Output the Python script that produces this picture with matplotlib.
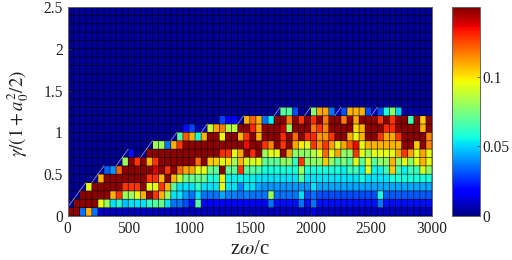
import matplotlib
matplotlib.use('Agg')
from matplotlib import pyplot as plt
import numpy as np

plt.rcParams['font.family'] = ['Liberation Serif', 'DejaVu Serif']
plt.rcParams['mathtext.fontset'] = 'stix'

# cell values in units of 1e-3, one list per row of the map (bottom to top)
row_00 = [148, 148, 36, 108, 36, 10, 8, 8, 8, 8,
          8, 8, 8, 8, 8, 8, 8, 8, 8, 8,
          8, 8, 8, 8, 8, 8, 8, 8, 8, 8,
          8, 8, 8, 8, 8, 8, 8, 8, 8, 8,
          14, 8, 8, 8, 8, 8, 8, 8, 8, 8,
          8, 8, 8, 8, 8, 8, 8, 8, 8, 8]
row_01 = [3, 148, 148, 148, 148, 94, 81, 52, 60, 47,
          52, 52, 52, 62, 68, 72, 52, 36, 36, 30,
          21, 68, 18, 18, 18, 18, 18, 18, 18, 18,
          18, 18, 18, 36, 21, 21, 21, 21, 36, 21,
          36, 21, 21, 21, 21, 21, 21, 21, 21, 21,
          21, 36, 21, 21, 21, 21, 21, 21, 21, 21]
row_02 = [3, 3, 148, 148, 148, 148, 148, 108, 128, 81,
          81, 94, 108, 148, 128, 108, 81, 52, 52, 42,
          36, 52, 36, 36, 36, 43, 38, 38, 36, 38,
          36, 36, 36, 81, 36, 36, 36, 36, 52, 30,
          36, 30, 30, 30, 30, 30, 30, 30, 30, 30,
          30, 57, 32, 32, 32, 32, 32, 32, 32, 32]
row_03 = [3, 3, 3, 94, 148, 148, 148, 148, 148, 128,
          128, 128, 148, 94, 94, 128, 108, 68, 52, 52,
          52, 62, 52, 52, 52, 95, 52, 52, 38, 52,
          52, 43, 41, 41, 41, 41, 41, 41, 41, 41,
          52, 43, 43, 43, 43, 43, 43, 43, 43, 43,
          43, 43, 43, 43, 43, 43, 43, 43, 43, 43]
row_04 = [3, 3, 3, 3, 3, 108, 148, 148, 148, 148,
          148, 148, 148, 128, 128, 108, 148, 108, 88, 72,
          72, 72, 72, 57, 57, 98, 54, 54, 54, 54,
          54, 52, 52, 52, 52, 52, 52, 52, 68, 52,
          52, 52, 52, 52, 52, 52, 52, 52, 57, 52,
          52, 52, 52, 57, 57, 57, 57, 57, 57, 57]
row_05 = [3, 3, 3, 3, 3, 3, 33, 41, 120, 148,
          148, 148, 148, 148, 138, 148, 128, 148, 120, 110,
          110, 94, 94, 72, 70, 148, 70, 70, 128, 68,
          68, 66, 57, 57, 57, 57, 57, 57, 81, 57,
          57, 57, 57, 57, 57, 54, 64, 64, 54, 94,
          54, 54, 64, 104, 64, 54, 64, 64, 91, 78]
row_06 = [3, 3, 3, 3, 3, 3, 3, 3, 3, 81,
          148, 128, 148, 108, 128, 148, 148, 148, 148, 148,
          148, 120, 148, 104, 104, 94, 100, 81, 108, 91,
          91, 94, 70, 70, 70, 79, 79, 62, 128, 79,
          79, 79, 104, 79, 68, 76, 68, 94, 68, 94,
          68, 79, 79, 108, 79, 94, 79, 94, 108, 94]
row_07 = [3, 3, 3, 3, 3, 3, 3, 3, 3, 3,
          21, 3, 3, 148, 148, 148, 148, 148, 148, 148,
          148, 148, 148, 148, 148, 130, 128, 94, 110, 148,
          130, 148, 81, 94, 94, 148, 110, 79, 79, 79,
          85, 94, 120, 94, 110, 79, 79, 128, 94, 81,
          94, 94, 94, 94, 110, 128, 110, 94, 110, 94]
row_08 = [3, 3, 3, 3, 3, 3, 3, 3, 3, 3,
          3, 3, 3, 3, 81, 81, 36, 108, 128, 148,
          148, 148, 148, 148, 148, 148, 148, 148, 148, 135,
          148, 148, 128, 115, 148, 128, 148, 110, 99, 94,
          128, 112, 128, 110, 94, 110, 122, 135, 94, 108,
          108, 108, 108, 108, 108, 148, 148, 104, 148, 115]
row_09 = [3, 3, 3, 3, 3, 3, 3, 3, 3, 3,
          3, 3, 3, 3, 3, 3, 3, 3, 68, 122,
          108, 57, 108, 148, 148, 95, 148, 148, 108, 128,
          148, 108, 148, 148, 148, 130, 148, 120, 148, 130,
          130, 112, 112, 128, 148, 148, 108, 95, 108, 148,
          148, 128, 110, 110, 128, 148, 148, 148, 148, 115]
row_10 = [3, 3, 3, 3, 3, 3, 3, 3, 3, 3,
          3, 3, 3, 3, 3, 3, 3, 3, 3, 21,
          29, 6, 6, 88, 110, 117, 85, 85, 148, 148,
          130, 110, 148, 148, 148, 140, 81, 148, 148, 148,
          117, 128, 115, 148, 148, 148, 148, 102, 108, 148,
          148, 148, 130, 130, 148, 148, 148, 148, 108, 148]
row_11 = [3, 3, 3, 3, 3, 3, 3, 3, 3, 3,
          3, 3, 3, 3, 3, 3, 3, 3, 3, 3,
          3, 3, 3, 3, 3, 29, 18, 18, 3, 108,
          120, 108, 36, 54, 148, 148, 117, 148, 128, 148,
          128, 148, 117, 148, 148, 117, 148, 110, 148, 148,
          148, 128, 148, 128, 148, 148, 64, 148, 104, 148]
row_12 = [3, 3, 3, 3, 3, 3, 3, 3, 3, 3,
          3, 3, 3, 3, 3, 3, 3, 3, 3, 3,
          3, 3, 3, 3, 3, 3, 3, 3, 3, 3,
          3, 3, 3, 3, 3, 68, 68, 30, 3, 3,
          76, 110, 110, 36, 8, 30, 108, 108, 108, 30,
          8, 30, 57, 77, 50, 5, 5, 5, 5, 5]
background = 3
n_rows = 25
n_cols = 60

# cells (column, row) crossed by a faint white stroke along the ridge
stroke_cols = [0, 1, 2, 4, 5, 8, 9, 12, 13, 17, 22, 28, 34, 39, 44, 50]
stroke_rows = [1, 2, 3, 4, 5, 6, 7, 7, 8, 9, 10, 11, 12, 12, 12, 12]

x_ticks = [0, 500, 1000, 1500, 2000, 2500, 3000]
y_ticks = [0, 0.5, 1, 1.5, 2, 2.5]
y_labels = ['0', '0.5', '1', '1.5', '2', '2.5']
cbar_ticks = [0, 0.05, 0.1]
cbar_labels = ['0', '0.05', '0.1']
vmax = 0.15

rows = [row_00, row_01, row_02, row_03, row_04, row_05, row_06,
        row_07, row_08, row_09, row_10, row_11, row_12]
z = np.full((n_rows, n_cols), background, dtype=float)
z[:len(rows)] = np.array(rows)
z = z / 1000.0
x_edges = np.linspace(0, 3000, n_cols + 1)
y_edges = np.linspace(0, 2.5, n_rows + 1)
dx = x_edges[1] - x_edges[0]
dy = y_edges[1] - y_edges[0]

W, H = 512, 260
fig = plt.figure(figsize=(W / 100, H / 100), dpi=100)
ax = fig.add_axes([67.5 / W, 1 - 216 / H, 364.5 / W, 209 / H])
mesh = ax.pcolormesh(x_edges, y_edges, z, cmap='jet', vmin=0, vmax=vmax)
# soft grid, not snapped, so every line keeps the same weight
v = ax.vlines(x_edges, 0, 2.5, color='black', lw=0.55, alpha=0.75)
h = ax.hlines(y_edges, 0, 3000, color='black', lw=0.55, alpha=0.75)
v.set_snap(False)
h.set_snap(False)
for c, r in zip(stroke_cols, stroke_rows):
    ax.plot([x_edges[c], x_edges[c] + dx], [y_edges[r], y_edges[r] + dy],
            color='white', lw=0.6, alpha=0.55)
ax.set_xlim(0, 3000)
ax.set_ylim(0, 2.5)
ax.set_xticks(x_ticks)
ax.set_yticks(y_ticks)
ax.set_yticklabels(y_labels)
ax.tick_params(labelsize=11.2, length=2, width=0.5, direction='in', pad=3.5,
               color='#444444', labelcolor='#222222')
for s in ax.spines.values():
    s.set_color('#666666')
    s.set_linewidth(0.7)
ax.set_xlabel(r'z$\omega$/c', fontsize=15, color='#222222', labelpad=2)
ax.set_ylabel(r'$\gamma/(1+a_0^2/2)$', fontsize=13.5, color='#222222')
ax.yaxis.set_label_coords(-0.1, 0.49)

cax = fig.add_axes([452 / W, 1 - 216 / H, 28 / W, 209 / H])
cb = fig.colorbar(mesh, cax=cax)
cb.set_ticks(cbar_ticks)
cb.set_ticklabels(cbar_labels)
cb.ax.tick_params(labelsize=11.2, length=2, width=0.5, direction='in', pad=2,
                  color='#444444', labelcolor='#222222')
cb.outline.set_edgecolor('#666666')
cb.outline.set_linewidth(0.7)

plt.savefig('out.png', dpi=100)
